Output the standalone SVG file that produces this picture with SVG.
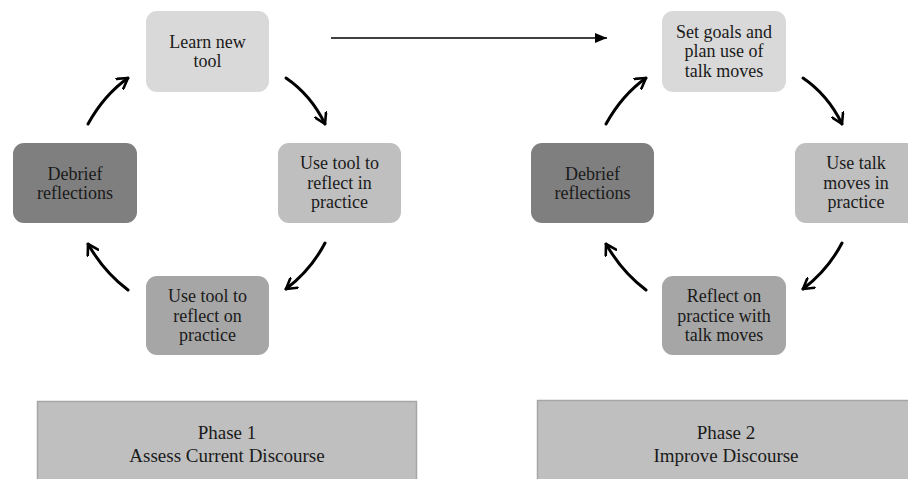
<svg xmlns="http://www.w3.org/2000/svg" width="908" height="479" viewBox="0 0 908 479">
<defs>
<style>
.t{font-family:"Liberation Serif","Times New Roman",serif;font-size:18px;fill:#1a1a1a;text-anchor:middle}
.p{font-family:"Liberation Serif","Times New Roman",serif;font-size:19px;fill:#1a1a1a;text-anchor:middle}
.c{fill:none;stroke:#000;stroke-width:3;stroke-linecap:round}
.l1{fill:#d9d9d9}.l2{fill:#bfbfbf}.l3{fill:#a6a6a6}.l4{fill:#7f7f7f}
.ph{fill:#bfbfbf;stroke:#a6a6a6;stroke-width:1.5}
</style>
<marker id="v" viewBox="0 0 14 14" refX="11" refY="7" markerWidth="14" markerHeight="14" markerUnits="userSpaceOnUse" orient="auto">
<path d="M1,1 L11,7 L1,13" fill="none" stroke="#000" stroke-width="2.6" stroke-linecap="round" stroke-linejoin="round"/>
</marker>
<marker id="tri" viewBox="0 0 12 10" refX="12" refY="5" markerWidth="12" markerHeight="10" markerUnits="userSpaceOnUse" orient="auto">
<path d="M0,0 L12,5 L0,10 Z" fill="#000"/>
</marker>
</defs>
<rect width="908" height="479" fill="#fff"/>

<g id="learn"><rect x="146" y="11" width="123" height="81" rx="11" class="l1"/>
<text class="t" x="207.5" y="48">Learn new</text><text class="t" x="207.5" y="67">tool</text></g>
<g id="use-in"><rect x="278" y="143" width="123" height="80" rx="11" class="l2"/>
<text class="t" x="339.5" y="169">Use tool to</text><text class="t" x="339.5" y="189">reflect in</text><text class="t" x="339.5" y="208">practice</text></g>
<g id="use-on"><rect x="146" y="276" width="123" height="79" rx="11" class="l3"/>
<text class="t" x="207.5" y="302">Use tool to</text><text class="t" x="207.5" y="322">reflect on</text><text class="t" x="207.5" y="341">practice</text></g>
<g id="debrief1"><rect x="13" y="143" width="124" height="80" rx="11" class="l4"/>
<text class="t" x="75" y="180">Debrief</text><text class="t" x="75" y="199">reflections</text></g>

<g id="goals"><rect x="662" y="11" width="124" height="81" rx="11" class="l1"/>
<text class="t" x="724" y="38">Set goals and</text><text class="t" x="724" y="57">plan use of</text><text class="t" x="724" y="77">talk moves</text></g>
<g id="use-talk"><rect x="795" y="143" width="123" height="80" rx="11" class="l2"/>
<text class="t" x="856" y="169">Use talk</text><text class="t" x="856" y="189">moves in</text><text class="t" x="856" y="208">practice</text></g>
<g id="reflect"><rect x="662" y="276" width="124" height="79" rx="11" class="l3"/>
<text class="t" x="724" y="302">Reflect on</text><text class="t" x="724" y="322">practice with</text><text class="t" x="724" y="341">talk moves</text></g>
<g id="debrief2"><rect x="531" y="143" width="123" height="80" rx="11" class="l4"/>
<text class="t" x="592.5" y="180">Debrief</text><text class="t" x="592.5" y="199">reflections</text></g>

<g id="phase1"><rect x="37.5" y="401.5" width="379" height="85" class="ph"/>
<text class="p" x="227" y="439">Phase 1</text><text class="p" x="227" y="462">Assess Current Discourse</text></g>
<g id="phase2"><rect x="537.5" y="400.5" width="380" height="86" class="ph"/>
<text class="p" x="726" y="439">Phase 2</text><text class="p" x="726" y="462">Improve Discourse</text></g>

<g id="connectors">
<path d="M331,38 L607,38" stroke="#000" stroke-width="1.6" fill="none" marker-end="url(#tri)"/>
<path class="c" d="M88,124 Q104,95 128,78" marker-end="url(#v)"/>
<path class="c" d="M286,78 Q311,95 325,124" marker-end="url(#v)"/>
<path class="c" d="M325,243 Q311,270 286,289" marker-end="url(#v)"/>
<path class="c" d="M128,290 Q104,272 88,244" marker-end="url(#v)"/>
<path class="c" d="M606,124 Q622,95 646,78" marker-end="url(#v)"/>
<path class="c" d="M803,78 Q828,95 842,124" marker-end="url(#v)"/>
<path class="c" d="M842,243 Q828,270 803,289" marker-end="url(#v)"/>
<path class="c" d="M646,290 Q622,272 606,244" marker-end="url(#v)"/>
</g>
</svg>
